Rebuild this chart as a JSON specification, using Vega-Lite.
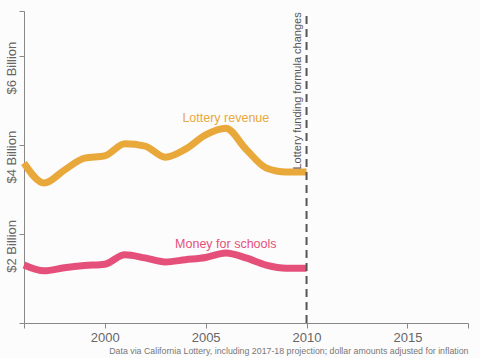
{
  "$schema": "https://vega.github.io/schema/vega-lite/v6.json",
  "width": 444,
  "height": 312,
  "autosize": {"type": "none"},
  "padding": {"left": 24, "top": 11, "right": 12, "bottom": 35},
  "background": "#fdfcfd",
  "config": {
    "font": "Liberation Sans",
    "view": {"stroke": null}
  },
  "title": {
    "text": "Data via California Lottery, including 2017-18 projection; dollar amounts adjusted for inflation",
    "orient": "bottom",
    "anchor": "end",
    "fontSize": 8.8,
    "fontWeight": "normal",
    "color": "#777777",
    "offset": 3
  },
  "datasets": {
    "series": [
      {"year": 1996, "value": 3.59, "series": "Lottery revenue"},
      {"year": 1997, "value": 3.14, "series": "Lottery revenue"},
      {"year": 1998, "value": 3.43, "series": "Lottery revenue"},
      {"year": 1999, "value": 3.70, "series": "Lottery revenue"},
      {"year": 2000, "value": 3.75, "series": "Lottery revenue"},
      {"year": 2001, "value": 4.02, "series": "Lottery revenue"},
      {"year": 2002, "value": 3.97, "series": "Lottery revenue"},
      {"year": 2003, "value": 3.72, "series": "Lottery revenue"},
      {"year": 2004, "value": 3.90, "series": "Lottery revenue"},
      {"year": 2005, "value": 4.22, "series": "Lottery revenue"},
      {"year": 2006, "value": 4.37, "series": "Lottery revenue"},
      {"year": 2007, "value": 3.90, "series": "Lottery revenue"},
      {"year": 2008, "value": 3.48, "series": "Lottery revenue"},
      {"year": 2009, "value": 3.39, "series": "Lottery revenue"},
      {"year": 2010, "value": 3.39, "series": "Lottery revenue"},
      {"year": 1996, "value": 1.30, "series": "Money for schools"},
      {"year": 1997, "value": 1.17, "series": "Money for schools"},
      {"year": 1998, "value": 1.24, "series": "Money for schools"},
      {"year": 1999, "value": 1.29, "series": "Money for schools"},
      {"year": 2000, "value": 1.32, "series": "Money for schools"},
      {"year": 2001, "value": 1.53, "series": "Money for schools"},
      {"year": 2002, "value": 1.46, "series": "Money for schools"},
      {"year": 2003, "value": 1.37, "series": "Money for schools"},
      {"year": 2004, "value": 1.42, "series": "Money for schools"},
      {"year": 2005, "value": 1.47, "series": "Money for schools"},
      {"year": 2006, "value": 1.57, "series": "Money for schools"},
      {"year": 2007, "value": 1.46, "series": "Money for schools"},
      {"year": 2008, "value": 1.30, "series": "Money for schools"},
      {"year": 2009, "value": 1.23, "series": "Money for schools"},
      {"year": 2010, "value": 1.23, "series": "Money for schools"}
    ],
    "labels": [
      {"year": 2006, "value": 4.6, "label": "Lottery revenue", "series": "Lottery revenue"},
      {"year": 2006, "value": 1.77, "label": "Money for schools", "series": "Money for schools"}
    ],
    "rule": [
      {"year": 2010, "low": 0, "high": 7, "note": "Lottery funding formula changes", "top": 6.97, "noteYear": 2009.8}
    ]
  },
  "layer": [
    {
      "data": {"name": "series"},
      "mark": {"type": "line", "interpolate": "monotone", "strokeWidth": 7, "strokeCap": "butt"},
      "encoding": {
        "x": {
          "field": "year", "type": "quantitative",
          "scale": {"domain": [1996, 2018], "nice": false, "zero": false},
          "axis": {
            "title": null,
            "values": [1996, 2000, 2005, 2010, 2015, 2018],
            "labelExpr": "datum.value == 1996 || datum.value == 2018 ? '' : datum.value",
            "grid": false,
            "domainColor": "#888888",
            "tickColor": "#888888",
            "tickSize": 5,
            "labelFontSize": 13,
            "labelColor": "#666666",
            "labelPadding": 3,
            "labelFont": "Liberation Sans"
          }
        },
        "y": {
          "field": "value", "type": "quantitative",
          "scale": {"domain": [0, 7], "nice": false},
          "axis": {
            "title": null,
            "values": [0, 2, 4, 6, 7],
            "labelExpr": "datum.value == 0 || datum.value == 7 ? '' : '$' + datum.value + ' Billion'",
            "grid": false,
            "domainColor": "#888888",
            "tickColor": "#888888",
            "tickSize": 5,
            "labelAngle": -90,
            "labelAlign": "center",
            "labelBaseline": "bottom",
            "labelPadding": 1,
            "labelOffset": 12,
            "labelFontSize": 13,
            "labelColor": "#666666",
            "labelFont": "Liberation Sans"
          }
        },
        "color": {
          "field": "series", "type": "nominal",
          "scale": {"domain": ["Lottery revenue", "Money for schools"], "range": ["#e8a83a", "#e4507a"]},
          "legend": null
        }
      }
    },
    {
      "data": {"name": "labels"},
      "mark": {"type": "text", "fontSize": 12.5, "align": "center", "baseline": "middle"},
      "encoding": {
        "x": {"field": "year", "type": "quantitative"},
        "y": {"field": "value", "type": "quantitative"},
        "text": {"field": "label"},
        "color": {"field": "series", "type": "nominal", "legend": null}
      }
    },
    {
      "data": {"name": "rule"},
      "mark": {"type": "rule", "strokeDash": [8, 5], "strokeWidth": 2, "color": "#555555"},
      "encoding": {
        "x": {"field": "year", "type": "quantitative"},
        "y": {"field": "low", "type": "quantitative"},
        "y2": {"field": "high"}
      }
    },
    {
      "data": {"name": "rule"},
      "mark": {"type": "text", "angle": 270, "align": "right", "baseline": "bottom", "fontSize": 11, "color": "#555555"},
      "encoding": {
        "x": {"field": "noteYear", "type": "quantitative"},
        "y": {"field": "top", "type": "quantitative"},
        "text": {"field": "note"}
      }
    }
  ]
}
